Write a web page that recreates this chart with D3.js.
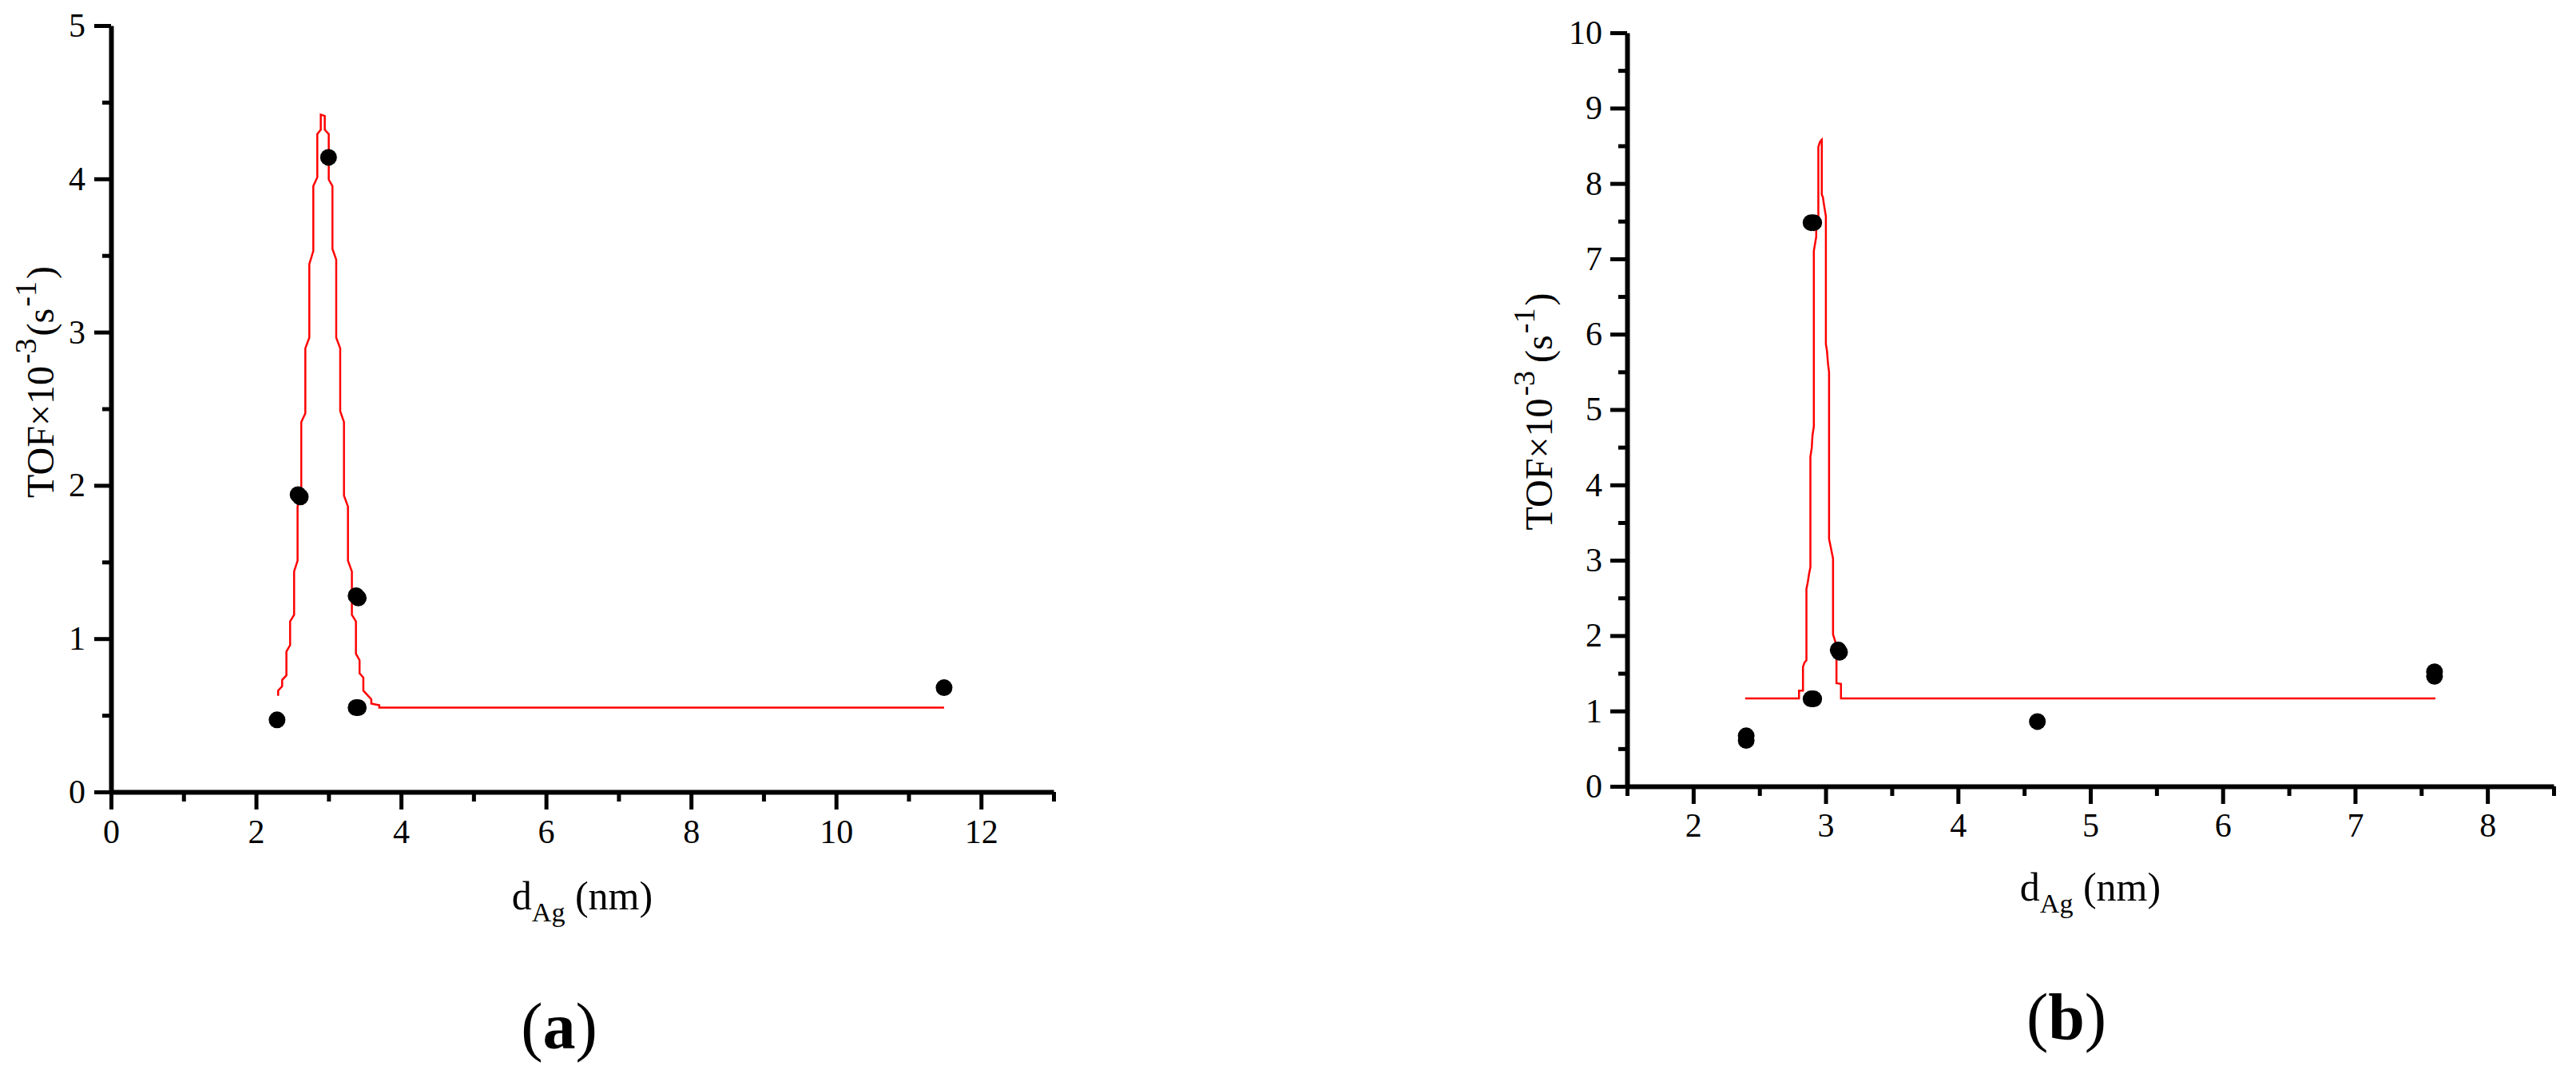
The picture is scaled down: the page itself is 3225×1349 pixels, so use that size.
<!DOCTYPE html>
<html><head><meta charset="utf-8">
<script src="https://cdn.jsdelivr.net/npm/d3@7"></script>
<style>
body{margin:0;background:#fff}
text{font-family:"Liberation Serif","Times New Roman",serif;fill:#000}
</style>
</head><body>
<svg id="c" width="3225" height="1349"></svg>
<script>
// ---------- Panel (a) data ----------
const aDotX = [2.29, 2.58, 2.61, 3.00, 3.38, 3.41, 3.38, 3.41, 11.49];
const aDotY = [0.47, 1.94, 1.925, 4.14, 1.28, 1.265, 0.55, 0.55, 0.68];
const aFitX = [2.305,2.305,2.360,2.360,2.419,2.419,2.470,2.470,2.525,2.525,2.573,2.573,2.624,2.624,2.680,2.680,2.735,2.735,2.790,2.790,2.845,2.845,2.893,2.893,2.948,2.948,3.003,3.003,3.054,3.054,3.106,3.106,3.161,3.161,3.213,3.213,3.268,3.268,3.322,3.322,3.378,3.378,3.428,3.428,3.480,3.480,3.535,3.590,3.590,3.700,3.700,11.49];
const aFitY = [0.627,0.661,0.689,0.731,0.760,0.916,0.958,1.113,1.155,1.438,1.509,1.862,1.961,2.413,2.470,2.894,2.964,3.444,3.529,3.953,4.009,4.292,4.321,4.419,4.410,4.321,4.292,3.995,3.953,3.543,3.473,2.964,2.894,2.484,2.413,1.933,1.862,1.509,1.438,1.155,1.113,0.901,0.859,0.774,0.746,0.661,0.633,0.604,0.576,0.565,0.550,0.550];
const aXMajor = [0,2,4,6,8,10,12];
const aXMinor = [1,3,5,7,9,11,13];
const aYMajor = [0,1,2,3,4,5];
const aYMinor = [0.5,1.5,2.5,3.5,4.5];

// ---------- Panel (b) data ----------
const bDotX = [2.40, 2.40, 2.89, 2.91, 2.89, 2.91, 3.095, 3.105, 4.60, 7.60, 7.60];
const bDotY = [0.61, 0.67, 1.16, 1.16, 7.48, 7.48, 1.81, 1.78, 0.86, 1.46, 1.52];
const bFitX = [2.392,2.799,2.799,2.829,2.829,2.841,2.855,2.855,2.865,2.875,2.885,2.885,2.895,2.901,2.911,2.911,2.919,2.929,2.929,2.937,2.945,2.945,2.955,2.965,2.971,2.971,2.979,2.986,2.994,3.002,3.002,3.010,3.018,3.026,3.026,3.036,3.046,3.056,3.056,3.066,3.076,3.082,3.082,3.116,3.116,7.607];
const bFitY = [1.166,1.166,1.270,1.270,1.586,1.644,1.672,2.620,2.706,2.821,2.908,4.374,4.489,4.661,4.776,7.104,7.190,7.293,7.391,7.420,7.450,8.484,8.541,8.570,8.581,7.851,7.822,7.736,7.650,7.564,5.868,5.782,5.609,5.494,3.282,3.196,3.109,3.023,2.017,1.960,1.902,1.850,1.368,1.360,1.166,1.166];
const bXMajor = [2,3,4,5,6,7,8];
const bXMinor = [1.5,2.5,3.5,4.5,5.5,6.5,7.5,8.5];
const bYMajor = [0,1,2,3,4,5,6,7,8,9,10];
const bYMinor = [0.5,1.5,2.5,3.5,4.5,5.5,6.5,7.5,8.5,9.5];

const svg = d3.select("#c");
svg.append("rect").attr("width",3225).attr("height",1349).attr("fill","#fff");

function panel(cfg){
  const g = svg.append("g");
  const x = d3.scaleLinear().domain(cfg.xDomain).range(cfg.xRange);
  const y = d3.scaleLinear().domain(cfg.yDomain).range(cfg.yRange);
  const y0 = y(cfg.yDomain[0]), x0 = x(cfg.xDomain[0]);

  const xm = g.append("g").attr("transform",`translate(0,${y0})`)
    .call(d3.axisBottom(x).tickValues(cfg.xMinor).tickSize(12).tickFormat(""));
  xm.select(".domain").remove();
  const ym = g.append("g").attr("transform",`translate(${x0},0)`)
    .call(d3.axisLeft(y).tickValues(cfg.yMinor).tickSize(11).tickFormat(""));
  ym.select(".domain").remove();
  const xa = g.append("g").attr("transform",`translate(0,${y0})`)
    .call(d3.axisBottom(x).tickValues(cfg.xMajor).tickSize(22).tickSizeOuter(0).tickPadding(cfg.xPad).tickFormat(d3.format("d")));
  const ya = g.append("g").attr("transform",`translate(${x0},0)`)
    .call(d3.axisLeft(y).tickValues(cfg.yMajor).tickSize(21).tickSizeOuter(0).tickPadding(cfg.yPad).tickFormat(d3.format("d")));
  [xa,ya,xm,ym].forEach(a=>{
    a.selectAll(".tick line").attr("stroke","#000").attr("stroke-width",5);
    a.selectAll(".domain").attr("stroke","#000").attr("stroke-width",6);
    a.selectAll("text").attr("font-size",42).attr("font-family",'"Liberation Serif","Times New Roman",serif').attr("fill","#000");
  });

  const line = d3.line().x((d,i)=>x(cfg.fitX[i])).y((d,i)=>y(cfg.fitY[i]));
  g.append("path").datum(cfg.fitX).attr("d",line).attr("fill","none")
    .attr("stroke","#ff0000").attr("stroke-width",2.5).attr("stroke-linejoin","miter");

  g.selectAll("circle.dot").data(cfg.dotX).enter().append("circle")
    .attr("cx",d=>x(d)).attr("cy",(d,i)=>y(cfg.dotY[i])).attr("r",10.5).attr("fill","#000");

  const yt = g.append("text").attr("transform",`translate(${cfg.yTitle[0]},${cfg.yTitle[1]}) rotate(-90)`)
    .attr("text-anchor","middle").attr("font-size",48);
  yt.append("tspan").text("TOF×10");
  yt.append("tspan").attr("font-size",38).attr("dy",-22).attr("dx",3).text("-3");
  yt.append("tspan").attr("dy",22).attr("dx",cfg.ySpace?10:3).text("(s");
  yt.append("tspan").attr("font-size",38).attr("dy",-22).attr("dx",2).text("-1");
  yt.append("tspan").attr("dy",22).attr("dx",3).text(")");

  const xt = g.append("text").attr("x",(cfg.xRange[0]+cfg.xRange[1])/2).attr("y",cfg.xTitleY)
    .attr("text-anchor","middle").attr("font-size",50);
  xt.append("tspan").text("d");
  xt.append("tspan").attr("font-size",34).attr("dy",15).text("Ag");
  xt.append("tspan").attr("dy",-15).text(" (nm)");

  const pl = g.append("text").attr("x",cfg.label[0]).attr("y",cfg.label[1])
    .attr("text-anchor","middle").attr("font-size",82);
  pl.append("tspan").text("(");
  pl.append("tspan").attr("font-weight","bold").text(cfg.labelText);
  pl.append("tspan").text(")");
}

panel({xDomain:[0,13], xRange:[139,1319], yDomain:[0,5], yRange:[991,32],
  xMajor:aXMajor, xMinor:aXMinor, yMajor:aYMajor, yMinor:aYMinor, xPad:12, yPad:11,
  fitX:aFitX, fitY:aFitY, dotX:aDotX, dotY:aDotY,
  yTitle:[67,478], ySpace:false, xTitleY:1138, label:[700,1312], labelText:"a"});

panel({xDomain:[1.5,8.5], xRange:[2037,3197], yDomain:[0,10], yRange:[984,41],
  xMajor:bXMajor, xMinor:bXMinor, yMajor:bYMajor, yMinor:bYMinor, xPad:11, yPad:10,
  fitX:bFitX, fitY:bFitY, dotX:bDotX, dotY:bDotY,
  yTitle:[1943,515], ySpace:true, xTitleY:1127, label:[2587,1300], labelText:"b"});
</script>
</body></html>
